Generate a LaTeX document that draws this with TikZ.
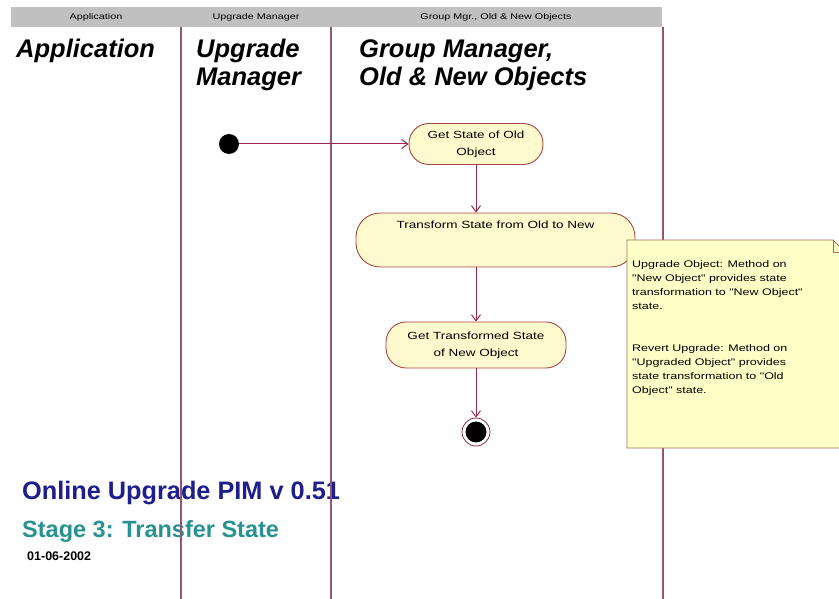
\documentclass[tikz,border=0pt]{standalone}
\usepackage{fontspec}
\setmainfont{Liberation Sans}
\newfontfamily\rosefont{Liberation Sans}[FakeStretch=1.3]
\usetikzlibrary{arrows.meta}

\definecolor{lanecol}{RGB}{145,85,120}
\definecolor{flowcol}{RGB}{150,40,80}
\definecolor{actfill}{RGB}{255,250,205}
\definecolor{actdraw}{RGB}{170,70,70}
\definecolor{notefill}{RGB}{255,255,200}
\definecolor{notedraw}{RGB}{170,110,90}
\definecolor{headgray}{RGB}{192,192,192}
\definecolor{titleblue}{RGB}{30,30,140}
\definecolor{stageteal}{RGB}{40,145,145}

\begin{document}
\begin{tikzpicture}[x=1pt,y=-1pt,
  lane/.style={draw=lanecol, line width=1.3pt},
  flow/.style={draw=flowcol, line width=1pt, -{Straight Barb[length=6pt,width=9pt]}},
  activity/.style={draw=actdraw, fill=actfill, line width=0.9pt, rounded corners=20pt,
    align=center, inner sep=0pt, font=\rosefont\fontsize{10.4}{17}\selectfont},
  lanehead/.style={font=\rosefont\fontsize{8.3}{10}\selectfont},
  lanetitle/.style={anchor=north west, inner sep=0pt, align=left,
    font=\fontsize{25.5}{28}\selectfont\bfseries\itshape},
  startdot/.style={circle, fill=black, minimum size=20pt, inner sep=0pt},
  enddot/.style={circle, draw=flowcol, line width=0.8pt, minimum size=28pt, inner sep=0pt,
    path picture={\fill[black] (path picture bounding box.center) circle (10.5pt);}},
  notebox/.style={draw=notedraw, fill=notefill, line width=0.9pt},
  ]
\clip (0,0) rectangle (839,599);
\fill[white] (0,0) rectangle (839,599);

% lane header
\fill[headgray] (11,7) rectangle (662,27);
\node[lanehead] (headapp) at (96,17) {Application};
\node[lanehead] (headupg) at (256,17) {Upgrade Manager};
\node[lanehead] (headgrp) at (496,17) {Group Mgr., Old \& New Objects};

\node[lanetitle] (titleapp) at (16,39) {Application};
\node[lanetitle] (titleupg) at (196,39) {Upgrade\\Manager};
\node[lanetitle] (titlegrp) at (359,39) {Group Manager,\\Old \& New Objects};

% caption
\node[anchor=base west, inner sep=0pt, text=titleblue, font=\fontsize{25.3}{28}\selectfont\bfseries]
  (pimtitle) at (22,499) {Online Upgrade PIM v 0.51};
\node[anchor=base west, inner sep=0pt, text=stageteal, font=\fontsize{23.5}{26}\selectfont\bfseries]
  (stage) at (22,537) {Stage 3: Transfer State};
\node[anchor=base west, inner sep=0pt, font=\fontsize{12.5}{15}\selectfont\bfseries]
  (date) at (27,560) {01-06-2002};

% swimlanes
\foreach \x in {181,331,663}
	\draw[lane] (\x,27) -- (\x,599);

% activities
\node[startdot] (start) at (229,144) {};
\node[activity, minimum width=134pt, minimum height=41pt] (getstate) at (476,144) {Get State of Old\\Object};
\node[activity, rounded corners=24pt, minimum width=279pt, minimum height=54pt] (transform) at (495.5,240)
  {Transform State from Old to New\\[13pt]\mbox{}};
\node[activity, minimum width=180pt, minimum height=46pt] (gettrans) at (476,345)
  {Get Transformed State\\of New Object};
\node[enddot] (finish) at (476,432) {};

\draw[flow] (start) -- (getstate);
\draw[flow] (getstate) -- (getstate |- transform.north);
\draw[flow] (gettrans |- transform.south) -- (gettrans);
\draw[flow] (gettrans) -- (finish);

% note
\filldraw[notebox] (627,240) -- (833,240) -- (845,252) -- (845,448) -- (627,448) -- cycle;
\draw[notebox, fill=none] (833,240) -- (833,252) -- (845,252);
\node[anchor=north west, inner sep=0pt, align=left, font=\rosefont\fontsize{9.6}{14}\selectfont]
  (notetext) at (632,260.5)
  {Upgrade Object: Method on\\
   "New Object" provides state\\
   transformation to "New Object"\\
   state.\\[28pt]
   Revert Upgrade: Method on\\
   "Upgraded Object" provides\\
   state transformation to "Old\\
   Object" state.};
\end{tikzpicture}
\end{document}
